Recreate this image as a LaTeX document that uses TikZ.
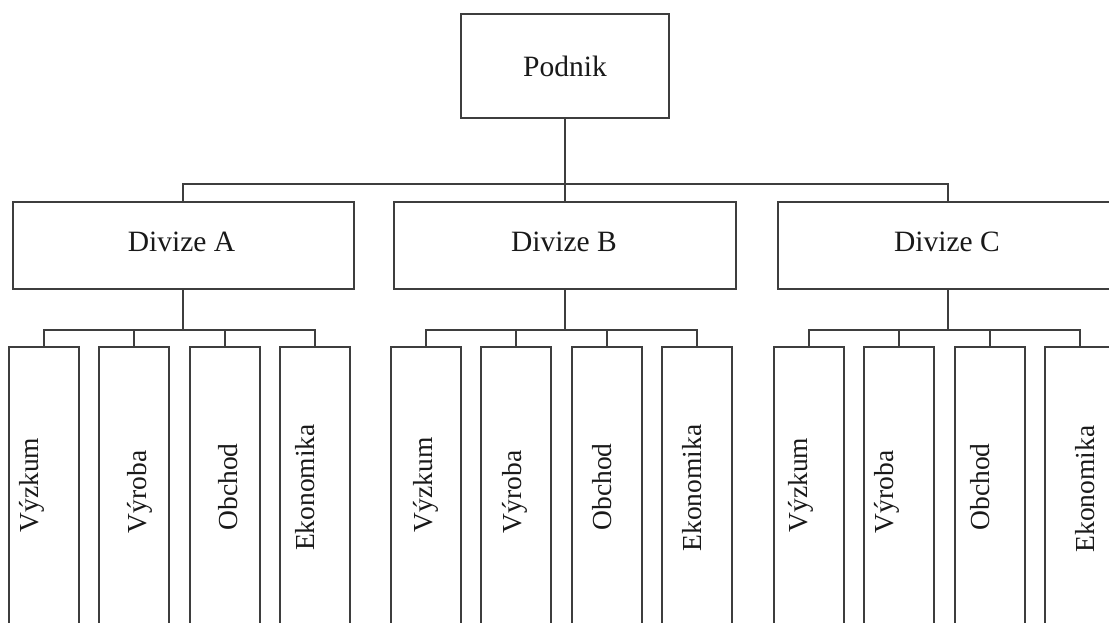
\documentclass[tikz,border=0pt]{standalone}
\usepackage{fontspec}
\setmainfont{Liberation Serif}
\definecolor{linegray}{RGB}{62,62,62}
\definecolor{textgray}{RGB}{25,25,25}
\begin{document}
\begin{tikzpicture}[x=1pt,y=-1pt,
  box/.style={draw=linegray, line width=1.8pt, fill=white, inner sep=0pt},
  link/.style={draw=linegray, line width=1.8pt},
  lbl/.style={font=\fontsize{29.5}{34}\selectfont, text=textgray, inner sep=0pt},
  vlbl/.style={font=\fontsize{27.5}{32}\selectfont, text=textgray, inner sep=0pt, rotate=90}]
\useasboundingbox (0,0) rectangle (1109,622);
\clip (0,0) rectangle (1109,622);

% top level
\node[box, minimum width=208.6, minimum height=103.4] (P) at (565,66) {};
\node[lbl] (Pt) at (565,66) {Podnik};

% divisions
\node[box, minimum width=341.3, minimum height=86.7] (A) at (183.3,245.6) {};
\node[box, minimum width=342.4, minimum height=86.7] (B) at (565,245.6) {};
\node[box, minimum width=341.4, minimum height=86.7] (C) at (948.3,245.6) {};
\node[lbl] (At) at (181.5,242) {Divize A};
\node[lbl] (Bt) at (564,242) {Divize B};
\node[lbl] (Ct) at (947,242) {Divize C};

% connectors from the company to the divisions
\coordinate (ytop) at (0,184.3);
\draw[link] (P.south) -- (B.north);
\draw[link] (A.north) -- (A.north |- ytop) -- (C.north |- ytop) -- (C.north);

% departments of each division
\coordinate (ysub) at (0,330);
\foreach \d/\cx in {A/183.3, B/565, C/948.3} {
  \foreach \i/\off in {1/-139.3, 2/-49, 3/42, 4/132} {
    \pgfmathsetmacro{\px}{\cx+\off}
    \node[box, minimum width=70, minimum height=301.4] (\d\i) at (\px,498) {};
  }
  \draw[link] (\d.south) -- (\d.south |- ysub);
  \draw[link] (\d1.north) -- (\d1.north |- ysub) -- (\d4.north |- ysub) -- (\d4.north);
  \draw[link] (\d2.north) -- (\d2.north |- ysub);
  \draw[link] (\d3.north) -- (\d3.north |- ysub);
}

% department labels
\node[vlbl] (A1t) at (32,485) {Výzkum};
\node[vlbl] (A2t) at (140,492) {Výroba};
\node[vlbl] (A3t) at (228,487) {Obchod};
\node[vlbl] (A4t) at (305,487.5) {Ekonomika};
\node[vlbl] (B1t) at (425.8,484.7) {Výzkum};
\node[vlbl] (B2t) at (514.5,492) {Výroba};
\node[vlbl] (B3t) at (601.7,487) {Obchod};
\node[vlbl] (B4t) at (691.7,488) {Ekonomika};
\node[vlbl] (C1t) at (800.8,485) {Výzkum};
\node[vlbl] (C2t) at (886.7,492) {Výroba};
\node[vlbl] (C3t) at (979.7,487) {Obchod};
\node[vlbl] (C4t) at (1085,489) {Ekonomika};
\end{tikzpicture}
\end{document}
